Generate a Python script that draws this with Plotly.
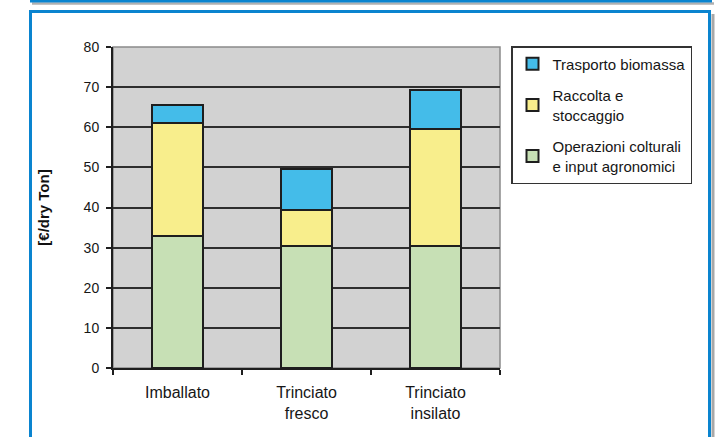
import plotly.graph_objects as go

# Cost breakdown per harvest/handling method, €/dry Ton
categories = ["Imballato", "Trinciato<br>fresco", "Trinciato<br>insilato"]
operazioni = [33.0, 30.5, 30.5]
raccolta = [28.0, 9.0, 29.0]
trasporto = [4.5, 10.0, 9.7]

series_names = [
    "Operazioni colturali<br>e input agronomici",
    "Raccolta e<br>stoccaggio",
    "Trasporto biomassa",
]
series_values = [operazioni, raccolta, trasporto]
series_colors = ["#c7e0b5", "#f8ee8c", "#44bce9"]

y_ticks = [0, 10, 20, 30, 40, 50, 60, 70, 80]

fig = go.Figure()
n = len(series_names)
for i, (name, vals, col) in enumerate(zip(series_names, series_values, series_colors)):
    fig.add_trace(go.Bar(
        x=categories, y=vals, name=name,
        legendgroup=f"g{i}", legendrank=n - i,   # top segment listed first
        marker=dict(color=col, line=dict(color="#1e1e1e", width=2)),
        width=0.39,
    ))

font_family = "Liberation Sans, Arial, sans-serif"
text_color = "#161616"

# plot area geometry in pixels (for placing the outer frame)
L, R, T, B = 113, 500, 47, 368
def px(x):
    return (x - L) / (R - L)
def py(y):
    return (B - y) / (B - T)

shapes = [
    # plot area border
    dict(type="rect", xref="paper", yref="paper", x0=0, x1=1, y0=0, y1=1,
         line=dict(color="#8a8a8a", width=1.5), layer="below"),
    # outer blue frame with grey shadow on the right
    dict(type="line", xref="paper", yref="paper", x0=px(713), x1=px(713), y0=py(14), y1=py(445),
         line=dict(color="#a8a8a8", width=3)),
    dict(type="line", xref="paper", yref="paper", x0=px(30.5), x1=px(709.5), y0=py(11.5), y1=py(11.5),
         line=dict(color="#0a84cf", width=3)),
    dict(type="line", xref="paper", yref="paper", x0=px(30.5), x1=px(30.5), y0=py(10), y1=py(445),
         line=dict(color="#0a84cf", width=3)),
    dict(type="line", xref="paper", yref="paper", x0=px(709.5), x1=px(709.5), y0=py(10), y1=py(445),
         line=dict(color="#0a84cf", width=3)),
    # bottom edge of the panel above
    dict(type="line", xref="paper", yref="paper", x0=px(32), x1=px(714), y0=py(3.5), y1=py(3.5),
         line=dict(color="#b0b0b0", width=2.5)),
    dict(type="line", xref="paper", yref="paper", x0=px(30), x1=px(712), y0=py(1), y1=py(1),
         line=dict(color="#0a84cf", width=3)),
]

fig.update_layout(
    width=716, height=437,
    margin=dict(l=L, r=716 - R, t=T, b=437 - B),
    paper_bgcolor="white",
    plot_bgcolor="#d2d2d2",
    barmode="stack",
    bargap=0.61,
    font=dict(family=font_family, size=14, color=text_color),
    showlegend=True,
    legend=dict(
        x=px(511), y=py(46), xanchor="left", yanchor="top",
        traceorder="grouped",
        tracegroupgap=9,
        bordercolor="#333333", borderwidth=1.5,
        bgcolor="white",
        font=dict(family=font_family, size=15, color=text_color),
        itemwidth=30,
    ),
    shapes=shapes,
)

fig.update_xaxes(
    showline=True, linecolor="#1e1e1e", linewidth=2,
    ticks="outside", tickson="boundaries", ticklen=5, tickcolor="#1e1e1e", tickwidth=1.5,
    ticklabelstandoff=9,
    tickfont=dict(size=16, color=text_color),
    showgrid=False,
)
fig.update_yaxes(
    range=[0, 80], tickvals=y_ticks,
    showline=True, linecolor="#1e1e1e", linewidth=2,
    ticks="outside", ticklen=5, tickcolor="#1e1e1e", tickwidth=1.5,
    ticklabelstandoff=4,
    showgrid=True, gridcolor="#2e2e2e", gridwidth=1.8,
    zeroline=False,
    tickfont=dict(size=14, color=text_color),
    title=dict(text="<b>[€/dry Ton]</b>", font=dict(size=15, color="#111111"), standoff=30),
)

fig.write_html("out.html")
